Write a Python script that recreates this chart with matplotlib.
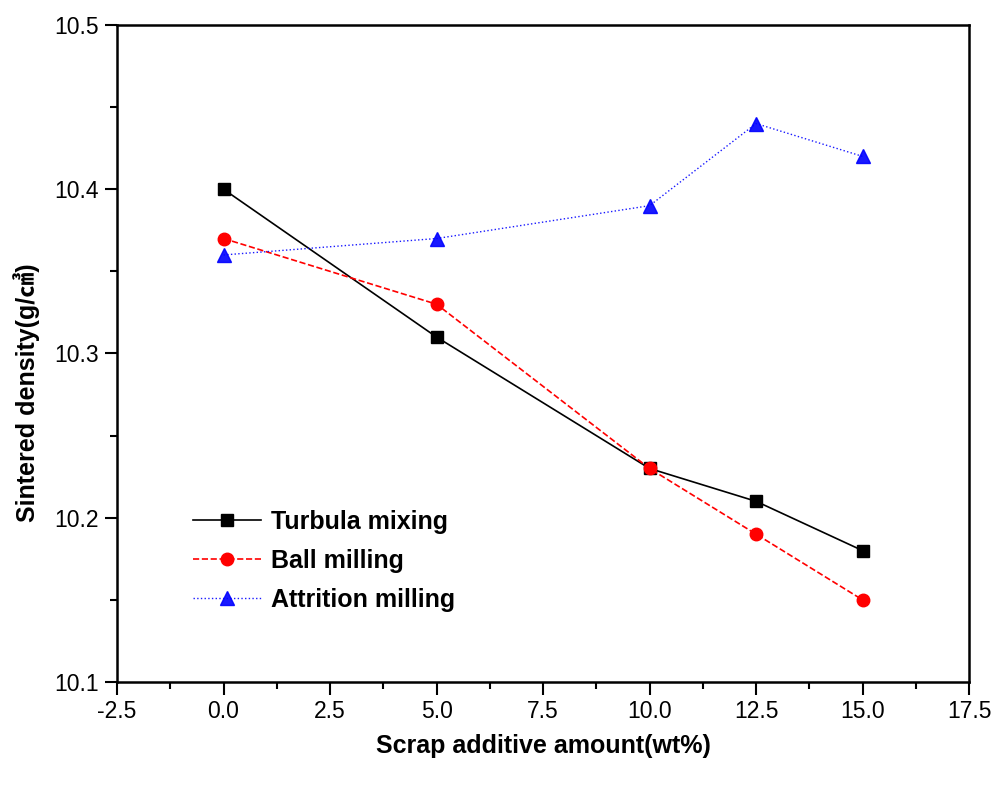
import matplotlib
matplotlib.use("Agg")
import matplotlib.pyplot as plt
from matplotlib.ticker import MultipleLocator, FormatStrFormatter

plt.rcParams['font.family'] = ['Liberation Sans', 'Noto Sans CJK KR', 'DejaVu Sans']

scrap = [0.0, 5.0, 10.0, 12.5, 15.0]
turbula = [10.40, 10.31, 10.23, 10.21, 10.18]
ball = [10.37, 10.33, 10.23, 10.19, 10.15]
attrition = [10.36, 10.37, 10.39, 10.44, 10.42]

fig = plt.figure(figsize=(10.03, 7.91), dpi=100)
ax = fig.add_axes([0.1167, 0.1378, 0.8495, 0.8306])

ax.plot(scrap, turbula, color='black', ls='-', lw=1.2, marker='s', ms=8,
        label='Turbula mixing')
ax.plot(scrap, ball, color='red', ls='--', lw=1.2, marker='o', ms=9,
        label='Ball milling')
ax.plot(scrap, attrition, color='blue', ls=':', lw=1.0, alpha=0.9, marker='^', ms=10,
        markeredgecolor='blue', markerfacecolor='blue', label='Attrition milling')

ax.set_xlim(-2.5, 17.5)
ax.set_ylim(10.1, 10.5)
ax.xaxis.set_major_locator(MultipleLocator(2.5))
ax.xaxis.set_minor_locator(MultipleLocator(1.25))
ax.yaxis.set_major_locator(MultipleLocator(0.1))
ax.yaxis.set_minor_locator(MultipleLocator(0.05))
ax.xaxis.set_major_formatter(FormatStrFormatter('%.1f'))
ax.yaxis.set_major_formatter(FormatStrFormatter('%.1f'))

ax.tick_params(which='major', direction='out', length=9, width=1.5, labelsize=16.5,
               top=False, right=False, pad=4)
ax.tick_params(which='minor', direction='out', length=5, width=1.5, top=False, right=False)
for s in ax.spines.values():
    s.set_linewidth(1.8)

ax.set_xlabel('Scrap additive amount(wt%)', fontsize=18, fontweight='bold', labelpad=8)
ax.set_ylabel('Sintered density(g/㎤)', fontsize=18, fontweight='bold')
ax.yaxis.set_label_coords(-0.09, 0.44)

ax.legend(loc='lower left', bbox_to_anchor=(0.063, 0.072), frameon=False,
          handlelength=2.7, handletextpad=0.4, labelspacing=0.6,
          prop={'size': 18, 'weight': 'bold'})

fig.savefig('out.png', dpi=100)
